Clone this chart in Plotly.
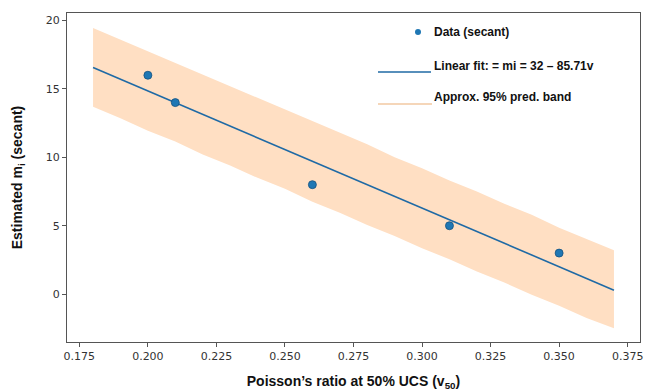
import plotly.graph_objects as go

# Data points (secant)
nu = [0.20, 0.21, 0.26, 0.31, 0.35]
mi = [16.0, 14.0, 8.0, 5.0, 3.0]

# Linear fit endpoints (mi = 32 - 85.71 v)
fit_x = [0.18, 0.37]
fit_y = [16.57, 0.29]

# Approx. 95% prediction band edges
band_x = [0.180, 0.190, 0.200, 0.210, 0.220, 0.230, 0.240, 0.250, 0.260, 0.270,
          0.280, 0.290, 0.300, 0.310, 0.320, 0.330, 0.340, 0.350, 0.360, 0.370]
band_hi = [19.45, 18.6, 17.75, 16.85, 16.05, 15.15, 14.35, 13.45, 12.65, 11.75,
           10.95, 10.0, 9.2, 8.3, 7.5, 6.6, 5.8, 4.85, 4.05, 3.2]
band_lo = [13.7, 12.85, 11.95, 11.15, 10.2, 9.4, 8.5, 7.7, 6.75, 5.95,
           5.05, 4.25, 3.35, 2.55, 1.65, 0.85, -0.05, -0.85, -1.75, -2.5]

xticks = [0.175, 0.200, 0.225, 0.250, 0.275, 0.300, 0.325, 0.350, 0.375]
xticklabels = ["0.175", "0.200", "0.225", "0.250", "0.275", "0.300", "0.325", "0.350", "0.375"]
yticks = [0, 5, 10, 15, 20]

BAND = "#ffdfc3"
BLUE = "#1f6aa5"

fig = go.Figure()
fig.add_trace(go.Scatter(x=band_x + band_x[::-1], y=band_hi + band_lo[::-1],
                         fill="toself", fillcolor=BAND, line=dict(width=0),
                         mode="lines", hoverinfo="skip", showlegend=False))
fig.add_trace(go.Scatter(x=fit_x, y=fit_y, mode="lines",
                         line=dict(color=BLUE, width=1.6), showlegend=False))
fig.add_trace(go.Scatter(x=nu, y=mi, mode="markers",
                         marker=dict(color="#1f77b4", size=8,
                                     line=dict(color="#15527f", width=0.8)),
                         showlegend=False))

# page body has an 8px margin; size the figure so it fills the window
OFF = 8
W, H = 652 - OFF, 391 - OFF
L, R, T, B = 67 - OFF, 12, 13 - OFF, 49
pw, ph = W - L - R, H - T - B

def px_x(px):
    return (px - OFF - L) / pw

def px_y(py):
    return (OFF + H - B - py) / ph

legfont = dict(family="Liberation Sans", size=12, color="#111111")
anns = []
for txt, py in [("Data (secant)", 32), ("Linear fit: = mi = 32 \u2013 85.71v", 66), ("Approx. 95% pred. band", 97)]:
    anns.append(dict(x=px_x(432), y=px_y(py), xref="paper", yref="paper", text="<b>" + txt + "</b>",
                     showarrow=False, xanchor="left", yanchor="middle", font=legfont))

shapes = [
    dict(type="circle", xref="paper", yref="paper", xsizemode="pixel", ysizemode="pixel",
         xanchor=px_x(418), yanchor=px_y(32), x0=-3, x1=3, y0=-3, y1=3,
         fillcolor="#1f77b4", line=dict(width=0)),
    dict(type="line", xref="paper", yref="paper", x0=px_x(378), x1=px_x(431),
         y0=px_y(72), y1=px_y(72), line=dict(color=BLUE, width=1.6)),
    dict(type="line", xref="paper", yref="paper", x0=px_x(378), x1=px_x(432),
         y0=px_y(104), y1=px_y(104), line=dict(color="#f2c9a2", width=1.6)),
]

fig.update_layout(
    width=W, height=H, margin=dict(l=L, r=R, t=T, b=B),
    paper_bgcolor="white", plot_bgcolor="white",
    annotations=anns, shapes=shapes, showlegend=False,
)
axcommon = dict(showline=True, linecolor="#555555", linewidth=1, mirror=True, automargin=False,
                ticks="outside", ticklen=4, tickcolor="#555555", showgrid=False, zeroline=False,
                tickfont=dict(family="DejaVu Sans", size=11, color="#333333"))
fig.update_xaxes(range=[0.1705, 0.3795], tickvals=xticks, ticktext=xticklabels,
                 title=dict(text="<b>Poisson\u2019s ratio at 50% UCS (v<sub>50</sub>)</b>",
                            font=dict(family="Liberation Sans", size=14, color="#111111"),
                            standoff=14),
                 **axcommon)
fig.update_yaxes(range=[-3.5, 20.55], tickvals=yticks,
                 title=dict(text="<b>Estimated m<sub>i</sub> (secant)</b>",
                            font=dict(family="Liberation Sans", size=14, color="#111111"),
                            standoff=19),
                 **axcommon)

fig.write_html("out.html")
